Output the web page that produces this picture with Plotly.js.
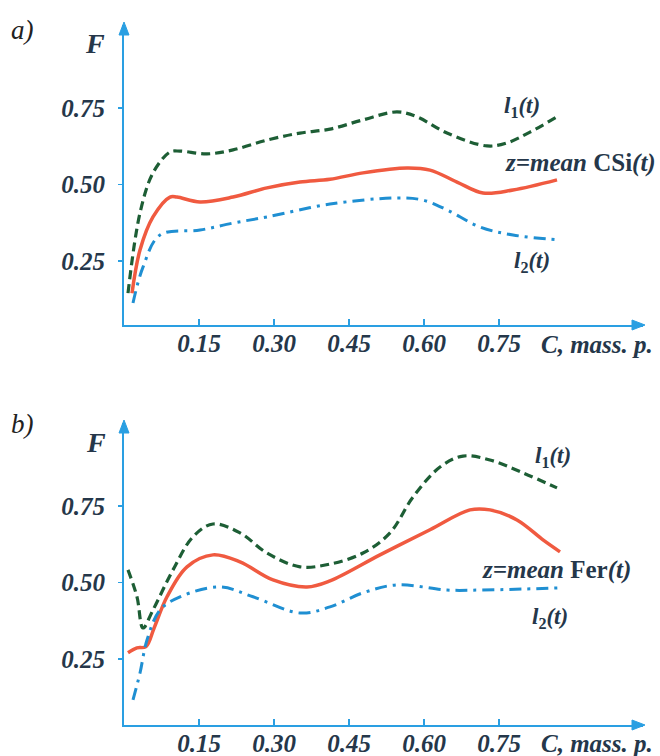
<!DOCTYPE html>
<html><head><meta charset="utf-8">
<script src="https://cdn.plot.ly/plotly-3.0.1.min.js"></script>
<style>body{margin:0;background:#fff}</style>
</head><body><div id="chart" style="width:660px;height:756px"></div>
<script>
// Panel a) — CSi
const aUpperX = [0.008,0.032,0.058,0.092,0.112,0.166,0.218,0.286,0.352,0.412,0.478,0.546,0.586,0.646,0.726,0.766,0.812,0.866];
const aUpperY = [0.145,0.407,0.538,0.606,0.609,0.600,0.613,0.645,0.668,0.681,0.711,0.737,0.721,0.668,0.626,0.636,0.671,0.721];
const aMeanX  = [0.016,0.032,0.058,0.092,0.106,0.152,0.218,0.286,0.352,0.412,0.478,0.566,0.612,0.666,0.718,0.778,0.866];
const aMeanY  = [0.145,0.286,0.394,0.459,0.459,0.443,0.459,0.489,0.508,0.517,0.538,0.554,0.547,0.508,0.472,0.482,0.515];
const aLowerX = [0.018,0.038,0.072,0.152,0.218,0.286,0.412,0.546,0.598,0.646,0.712,0.778,0.872];
const aLowerY = [0.113,0.230,0.335,0.351,0.374,0.394,0.436,0.456,0.449,0.417,0.361,0.335,0.319];
// Panel b) — Fer
const bUpperX = [0.008,0.026,0.038,0.058,0.098,0.138,0.178,0.232,0.286,0.352,0.412,0.478,0.532,0.578,0.632,0.678,0.732,0.798,0.866];
const bUpperY = [0.541,0.453,0.351,0.410,0.541,0.649,0.691,0.662,0.596,0.551,0.560,0.596,0.662,0.779,0.877,0.913,0.900,0.858,0.809];
const bMeanX  = [0.008,0.026,0.044,0.060,0.086,0.126,0.178,0.232,0.298,0.366,0.412,0.512,0.612,0.692,0.732,0.786,0.838,0.872];
const bMeanY  = [0.270,0.286,0.290,0.350,0.453,0.551,0.590,0.567,0.508,0.485,0.505,0.590,0.672,0.737,0.737,0.704,0.639,0.600];
const bLowerX = [0.018,0.032,0.046,0.072,0.112,0.192,0.258,0.352,0.412,0.478,0.546,0.646,0.712,0.872];
const bLowerY = [0.116,0.204,0.312,0.410,0.453,0.485,0.453,0.400,0.420,0.466,0.492,0.475,0.475,0.482];

const xTickVals = [0.15,0.30,0.45,0.60,0.75];
const xTickText = ['0.15','0.30','0.45','0.60','0.75'];
const yTickVals = [0.25,0.50,0.75];
const yTickText = ['0.25','0.50','0.75'];

const GREEN = '#1d5e35', RED = '#f05a40', BLUE = '#1f8fd2', AXIS = '#2a9fe2', TXT = '#25374a';
const SERIF = 'Liberation Serif, DejaVu Serif, serif';

function tr(x, y, color, dash, w, xa, ya){
  return {x:x, y:y, xaxis:xa, yaxis:ya, mode:'lines', hoverinfo:'skip',
    line:{color:color, dash:dash, width:w, shape:'spline', smoothing:1}};
}
const data = [
  tr(aUpperX, aUpperY, GREEN, '9px,5px', 3.2, 'x', 'y'),
  tr(aMeanX,  aMeanY,  RED,   'solid', 3.5, 'x', 'y'),
  tr(aLowerX, aLowerY, BLUE,  '12px,6px,3px,6px', 3, 'x', 'y'),
  tr(bUpperX, bUpperY, GREEN, '9px,5px', 3.2, 'x2', 'y2'),
  tr(bMeanX,  bMeanY,  RED,   'solid', 3.5, 'x2', 'y2'),
  tr(bLowerX, bLowerY, BLUE,  '12px,6px,3px,6px', 3, 'x2', 'y2')
];

const W = 660, H = 756;
const px = v => v / W, py = v => 1 - v / H;
const tickFont = {family:SERIF, size:25, color:TXT, weight:'bold', style:'italic'};

function xax(anchor){
  return {domain:[px(124), px(643)], range:[0, 1.038], anchor:anchor,
    tickmode:'array', tickvals:xTickVals, ticktext:xTickText,
    showline:true, linecolor:AXIS, linewidth:2, ticks:'inside', ticklen:6, tickwidth:1.5, tickcolor:AXIS,
    showgrid:false, zeroline:false, tickfont:tickFont, ticklabelstandoff:-5, fixedrange:true};
}
function yax(anchor, d0, d1, r0){
  return {domain:[py(d0), py(d1)], range:[r0, 1.021], anchor:anchor,
    tickmode:'array', tickvals:yTickVals, ticktext:yTickText,
    showline:true, linecolor:AXIS, linewidth:2, ticks:'outside', ticklen:4, tickwidth:1.5, tickcolor:AXIS,
    showgrid:false, zeroline:false, tickfont:tickFont, ticklabelstandoff:8, fixedrange:true};
}

function lab(text, x, y, size, opts){
  return Object.assign({text:text, xref:'paper', yref:'paper', x:px(x), y:py(y), showarrow:false,
    xanchor:'center', yanchor:'middle', font:{family:SERIF, size:size, color:TXT, weight:'bold', style:'normal'}}, opts||{});
}
// axis arrowheads as small filled triangles (pixel positions of the axis ends)
function tri(p1, p2, p3){
  const f = p => px(p[0]) + ',' + py(p[1]);
  return {type:'path', xref:'paper', yref:'paper', path:'M' + f(p1) + ' L' + f(p2) + ' L' + f(p3) + ' Z',
    fillcolor:AXIS, line:{color:AXIS, width:1}};
}

const annotations = [
  lab('<i>a)</i>', 22, 30, 27, {font:{family:SERIF, size:27, color:'#222'}}),
  lab('<i>b)</i>', 22, 424, 27, {font:{family:SERIF, size:27, color:'#222'}}),
  lab('<i>F</i>', 95, 44, 28),
  lab('<i>F</i>', 96, 442, 28),
  lab('<i>C, mass. p.</i>', 597, 344, 25),
  lab('<i>C, mass. p.</i>', 597, 743, 25),
  lab('<i>l</i><sub>1</sub><i>(t)</i>', 522, 107, 23),
  lab('<i>z=mean</i> CSi<i>(t)</i>', 580, 163, 25),
  lab('<i>l</i><sub>2</sub><i>(t)</i>', 532, 262, 23),
  lab('<i>l</i><sub>1</sub><i>(t)</i>', 553, 457, 23),
  lab('<i>z=mean</i> Fer<i>(t)</i>', 556, 570, 25),
  lab('<i>l</i><sub>2</sub><i>(t)</i>', 550, 618, 23)
];

const shapes = [
  tri([645,325],[632,320],[632,330]),
  tri([124,22],[119,35],[129,35]),
  tri([645,725],[632,720],[632,730]),
  tri([124,420],[119,433],[129,433])
];

const layout = {
  width:W, height:H, margin:{l:0, r:0, t:0, b:0},
  paper_bgcolor:'#fff', plot_bgcolor:'rgba(0,0,0,0)', showlegend:false,
  xaxis:xax('y'), yaxis:yax('x', 325, 25, 0.041),
  xaxis2:xax('y2'), yaxis2:yax('x2', 725, 423, 0.034),
  annotations:annotations, shapes:shapes
};
Plotly.newPlot('chart', data, layout, {displayModeBar:false, staticPlot:true});
</script></body></html>
